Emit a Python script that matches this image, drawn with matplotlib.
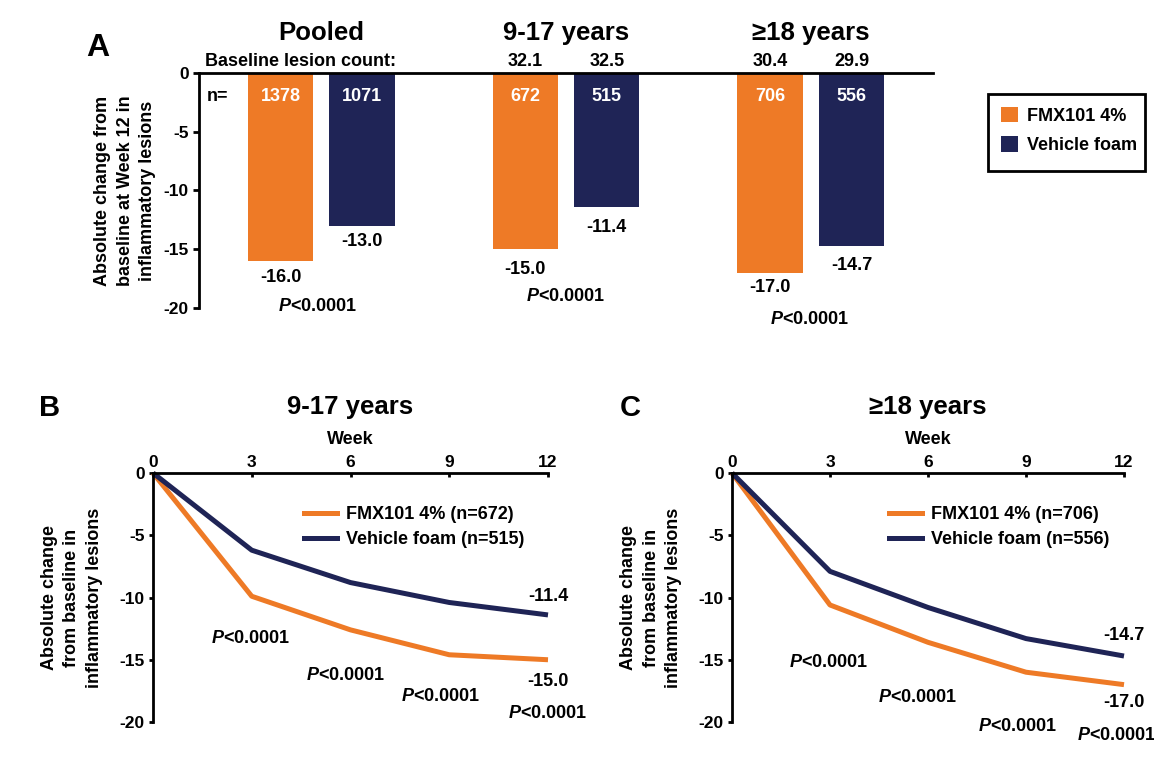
import matplotlib
matplotlib.use('Agg')
import matplotlib.pyplot as plt
from matplotlib.patches import Patch, Rectangle
from matplotlib.lines import Line2D

plt.rcParams['font.family'] = ['Liberation Sans', 'DejaVu Sans']
plt.rcParams['font.weight'] = 'bold'
plt.rcParams['mathtext.fontset'] = 'custom'
plt.rcParams['mathtext.it'] = 'Liberation Sans:italic:bold'
plt.rcParams['mathtext.rm'] = 'Liberation Sans:bold'
plt.rcParams['mathtext.bf'] = 'Liberation Sans:bold'

# ---------------- data ----------------
groups = ['Pooled', '9-17 years', '\u226518 years']
fmx_change = [-16.0, -15.0, -17.0]
veh_change = [-13.0, -11.4, -14.7]
fmx_n = [1378, 672, 706]
veh_n = [1071, 515, 556]
fmx_baseline = [None, '32.1', '30.4']
veh_baseline = [None, '32.5', '29.9']
p_text = r'$P$<0.0001'

weeks = [0, 3, 6, 9, 12]
fmx_917 = [0, -9.9, -12.6, -14.6, -15.0]
veh_917 = [0, -6.2, -8.8, -10.4, -11.4]
fmx_18 = [0, -10.6, -13.6, -16.0, -17.0]
veh_18 = [0, -7.9, -10.8, -13.3, -14.7]
n_917 = (672, 515)
n_18 = (706, 556)
yticks = [0, -5, -10, -15, -20]

ORANGE = '#EE7A26'
NAVY = '#1F2456'

FS = 13        # general text size
TFS = 18.5     # titles
TKS = 12.5     # tick labels

W, H = 1154, 760
fig = plt.figure(figsize=(W / 100, H / 100), dpi=100)


def fx(px):
    return px / W


def fy(py):
    return 1 - py / H


# ---------------- Panel A ----------------
axA = fig.add_axes([fx(199), fy(308), (933 - 199) / W, 235 / H])
gx = [0, 3, 6]
xo = [g - 0.5 for g in gx]
xv = [g + 0.5 for g in gx]
axA.bar(xo, fmx_change, width=0.8, color=ORANGE)
axA.bar(xv, veh_change, width=0.8, color=NAVY)
axA.set_xlim(-1.5, 7.5)
axA.set_ylim(-20, 0)
for s in ['right', 'bottom']:
    axA.spines[s].set_visible(False)
for s in ['top', 'left']:
    axA.spines[s].set_linewidth(2)
axA.set_xticks([])
axA.set_yticks(yticks)
axA.set_yticklabels([str(t) for t in yticks])
axA.tick_params(axis='y', direction='out', length=4.5, width=2, labelsize=TKS, pad=3)
axA.set_ylabel('Absolute change from\nbaseline at Week 12 in\ninflammatory lesions',
               fontsize=FS, fontweight='bold', va='center', linespacing=1.45)
axA.yaxis.set_label_coords((125 - 199) / 734, 0.5)

tr = axA.get_xaxis_transform()
axA.text(-1.43, 1.047, 'Baseline lesion count:', transform=tr, ha='left', va='center', fontsize=FS)
for i, g in enumerate(gx):
    axA.text(g, 1.170, groups[i], transform=tr, ha='center', va='center', fontsize=TFS)
    if fmx_baseline[i]:
        axA.text(xo[i], 1.047, fmx_baseline[i], transform=tr, ha='center', va='center', fontsize=FS)
        axA.text(xv[i], 1.047, veh_baseline[i], transform=tr, ha='center', va='center', fontsize=FS)
    axA.text(xo[i], -2.0, str(fmx_n[i]), color='white', ha='center', va='center', fontsize=FS)
    axA.text(xv[i], -2.0, str(veh_n[i]), color='white', ha='center', va='center', fontsize=FS)
axA.text(-1.27, -2.0, 'n=', ha='center', va='center', fontsize=FS)

pad_o = [17, 20, 15]
pad_v = [16, 21, 20]
for i in range(3):
    axA.annotate(f'{fmx_change[i]:.1f}', (xo[i], fmx_change[i]), xytext=(0, -pad_o[i] * 0.72),
                 textcoords='offset points', ha='center', va='center', fontsize=FS,
                 annotation_clip=False)
    axA.annotate(f'{veh_change[i]:.1f}', (xv[i], veh_change[i]), xytext=(0, -pad_v[i] * 0.72),
                 textcoords='offset points', ha='center', va='center', fontsize=FS,
                 annotation_clip=False)
p_y = [-19.83, -19.06, -21.0]
p_dx = [-0.05, 0.0, -0.02]
for i, g in enumerate(gx):
    axA.text(g + p_dx[i], p_y[i], p_text, ha='center', va='center', fontsize=FS, clip_on=False)

fig.text(fx(98), fy(48), 'A', ha='center', va='center', fontsize=23, fontweight='bold')

fig.legend(handles=[Patch(fc=ORANGE, ec='none', label='FMX101 4%'),
                    Patch(fc=NAVY, ec='none', label='Vehicle foam')],
           loc='upper left', bbox_to_anchor=(fx(1001), fy(107)), frameon=False,
           borderaxespad=0, borderpad=0, fontsize=FS, handlelength=0.94, handleheight=0.94,
           handletextpad=0.5, labelspacing=0.64)
fig.patches.append(Rectangle((fx(988), fy(171)), fx(1145) - fx(988), fy(94) - fy(171),
                             transform=fig.transFigure, fill=False, ec='black', lw=2))


# ---------------- Panels B and C ----------------
def line_panel(left_px, right_px, fmx, veh, ns, title, letter, letter_px,
               ylabel_px, legend_px, p_pos, pad_veh, pad_fmx):
    ax = fig.add_axes([fx(left_px), fy(722), (right_px - left_px) / W, 249 / H])
    ax.plot(weeks, fmx, color=ORANGE, lw=3.6, clip_on=False, solid_capstyle='butt')
    ax.plot(weeks, veh, color=NAVY, lw=3.6, clip_on=False, solid_capstyle='butt')
    ax.set_xlim(0, 12)
    ax.set_ylim(-20, 0)
    for s in ['right', 'bottom']:
        ax.spines[s].set_visible(False)
    for s in ['top', 'left']:
        ax.spines[s].set_linewidth(2)
    ax.xaxis.tick_top()
    ax.set_xticks(weeks)
    ax.set_xticklabels([str(w) for w in weeks])
    ax.tick_params(axis='x', direction='in', length=3, width=2, labelsize=TKS, pad=2)
    ax.set_yticks(yticks)
    ax.set_yticklabels([str(t) for t in yticks])
    ax.tick_params(axis='y', direction='out', length=3, width=2, labelsize=TKS, pad=3)
    ax.set_ylabel('Absolute change\nfrom baseline in\ninflammatory lesions', fontsize=FS,
                  fontweight='bold', va='center', linespacing=1.4)
    ax.yaxis.set_label_coords((ylabel_px - left_px) / (right_px - left_px), 0.5)
    ax.text(0.5, (722 - 440) / 249, 'Week', transform=ax.transAxes, ha='center', va='center',
            fontsize=FS)
    ax.text(0.5, (722 - 407) / 249, title, transform=ax.transAxes, ha='center', va='center',
            fontsize=TFS)
    fig.text(fx(letter_px[0]), fy(letter_px[1]), letter, ha='center', va='center',
             fontsize=21, fontweight='bold')
    ax.annotate(f'{veh[-1]:.1f}', (weeks[-1], veh[-1]), xytext=(0, pad_veh * 0.72),
                textcoords='offset points', ha='center', va='center', fontsize=FS,
                annotation_clip=False)
    ax.annotate(f'{fmx[-1]:.1f}', (weeks[-1], fmx[-1]), xytext=(0, -pad_fmx * 0.72),
                textcoords='offset points', ha='center', va='center', fontsize=FS,
                annotation_clip=False)
    for (px_, py_) in p_pos:
        ax.text(px_, py_, p_text, ha='center', va='center', fontsize=FS, clip_on=False)
    ax.legend(handles=[Line2D([], [], color=ORANGE, lw=3.6, label=f'FMX101 4% (n={ns[0]})'),
                       Line2D([], [], color=NAVY, lw=3.6, label=f'Vehicle foam (n={ns[1]})')],
              loc='center left', bbox_to_anchor=(fx(legend_px[0]), fy(legend_px[1])),
              bbox_transform=fig.transFigure, frameon=False, borderpad=0, borderaxespad=0,
              handlelength=1.8, handletextpad=0.5, labelspacing=0.45, fontsize=FS)
    return ax


line_panel(153, 548, fmx_917, veh_917, n_917, '9-17 years', 'B', (50, 408), 72, (304, 527),
           [(2.95, -13.33), (5.86, -16.3), (8.75, -17.99), (12.0, -19.28)], 18, 22)
line_panel(732, 1124, fmx_18, veh_18, n_18, '\u226518 years', 'C', (630, 408), 651, (889, 527),
           [(2.97, -15.26), (5.69, -18.07), (8.75, -20.4), (11.78, -21.12)], 21, 18)

fig.savefig('out.png', dpi=100)
